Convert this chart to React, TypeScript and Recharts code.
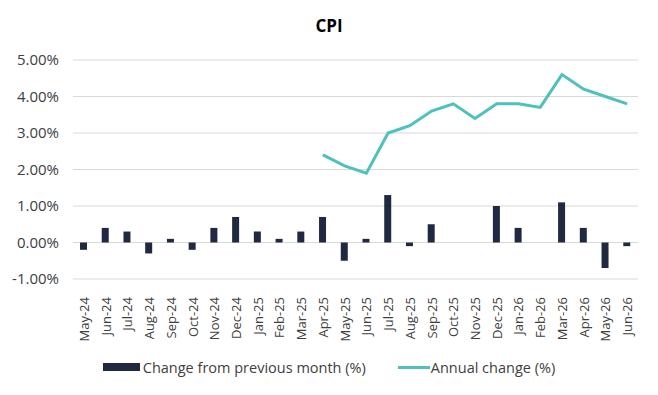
import React from 'react';
import { ComposedChart, Bar, Line, XAxis, YAxis, CartesianGrid, Legend } from 'recharts';

const months = [
  'May-24', 'Jun-24', 'Jul-24', 'Aug-24', 'Sep-24', 'Oct-24', 'Nov-24', 'Dec-24',
  'Jan-25', 'Feb-25', 'Mar-25', 'Apr-25', 'May-25', 'Jun-25', 'Jul-25', 'Aug-25',
  'Sep-25', 'Oct-25', 'Nov-25', 'Dec-25', 'Jan-26', 'Feb-26', 'Mar-26', 'Apr-26',
  'May-26', 'Jun-26',
];

// change from previous month (%)
const monthly = [
  -0.2, 0.4, 0.3, -0.3, 0.1, -0.2, 0.4, 0.7,
  0.3, 0.1, 0.3, 0.7, -0.5, 0.1, 1.3, -0.1,
  0.5, null, null, 1.0, 0.4, null, 1.1, 0.4,
  -0.7, -0.1,
];

// annual change (%)
const annual = [
  null, null, null, null, null, null, null, null,
  null, null, null, 2.4, 2.1, 1.9, 3.0, 3.2,
  3.6, 3.8, 3.4, 3.8, 3.8, 3.7, 4.6, 4.2,
  4.0, 3.8,
];

const yTicks = [-1, 0, 1, 2, 3, 4, 5];

const BAR_COLOR = '#1F2A40';
const LINE_COLOR = '#4FC1BC';
const FONT = '"Open Sans", sans-serif';

const data = months.map((m, i) => ({ month: m, monthly: monthly[i], annual: annual[i] }));

const MonthTick = (props: any) => {
  const { x, y, payload } = props;
  return (
    <text
      x={x}
      y={y + 10}
      transform={`rotate(-90, ${x}, ${y + 10})`}
      textAnchor="end"
      dominantBaseline="central"
      fill="#404040"
      fontSize={13}
      fontFamily={FONT}
    >
      {payload.value}
    </text>
  );
};

const LegendContent = () => (
  <div
    style={{
      display: 'flex',
      justifyContent: 'center',
      alignItems: 'center',
      fontFamily: FONT,
      fontSize: 14.5,
      color: '#404040',
      height: 36,
      paddingLeft: 20,
    }}
  >
    <span style={{ display: 'inline-block', width: 37, height: 8, background: BAR_COLOR, marginRight: 3 }} />
    <span>Change from previous month (%)</span>
    <span style={{ display: 'inline-block', width: 32, height: 3, background: LINE_COLOR, marginLeft: 32, marginRight: 1 }} />
    <span>Annual change (%)</span>
  </div>
);

const App: React.FC = () => {
  return (
    <div style={{ position: 'absolute', left: 0, top: 0, width: 658, height: 395, background: '#fff' }}>
      <div
        style={{
          position: 'absolute',
          top: 14,
          left: 0,
          width: 658,
          textAlign: 'center',
          fontFamily: FONT,
          fontWeight: 'bold',
          fontSize: 17,
          color: '#000',
          boxSizing: 'border-box',
        }}
      >
        CPI
      </div>
      <ComposedChart
        width={658}
        height={395}
        data={data}
        margin={{ top: 60, right: 20, left: 0, bottom: 10 }}
      >
        <CartesianGrid vertical={false} stroke="#D9D9D9" strokeWidth={1} />
        <XAxis
          dataKey="month"
          axisLine={false}
          tickLine={false}
          interval={0}
          height={70}
          tick={<MonthTick />}
        />
        <YAxis
          domain={[-1, 5]}
          ticks={yTicks}
          axisLine={false}
          tickLine={false}
          tickMargin={8}
          width={73}
          tickFormatter={(v: number) => `${v.toFixed(2)}%`}
          tick={{ fill: '#404040', fontSize: 15, fontFamily: FONT }}
        />
        <Bar dataKey="monthly" fill={BAR_COLOR} barSize={7} isAnimationActive={false} />
        <Line
          dataKey="annual"
          stroke={LINE_COLOR}
          strokeWidth={3}
          dot={false}
          activeDot={false}
          isAnimationActive={false}
        />
        <Legend verticalAlign="bottom" height={36} content={<LegendContent />} />
      </ComposedChart>
    </div>
  );
};

export default App;
